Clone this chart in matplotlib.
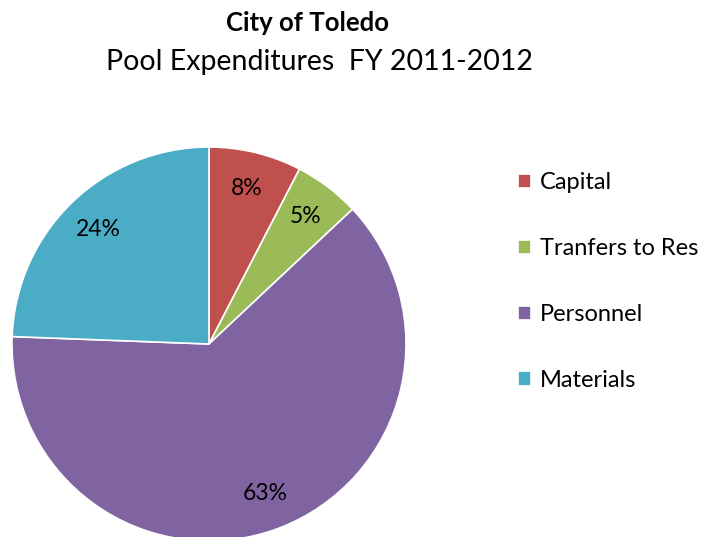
import matplotlib.pyplot as plt

# data
categories = ['Capital', 'Tranfers to Res', 'Personnel', 'Materials']
shares = [7.6, 5.4, 62.6, 24.4]
colors = ['#C0504D', '#9BBB59', '#8064A2', '#4BACC6']

plt.rcParams['font.family'] = ['Lato', 'DejaVu Sans']

W, H = 703, 537
fig = plt.figure(figsize=(W / 100, H / 100), dpi=100)

# pie axes: centre (209, 344) px, radius 197 px
cx, cy, r = 209, 344, 197
ax = fig.add_axes([(cx - r) / W, (H - cy - r) / H, 2 * r / W, 2 * r / H])
wedges, texts, autotexts = ax.pie(shares, colors=colors, startangle=90, counterclock=False,
                                  autopct='%1.0f%%', pctdistance=0.81,
                                  wedgeprops=dict(edgecolor='white', linewidth=1.2),
                                  textprops=dict(fontsize=16.5, color='black'))
ax.set_xlim(-1, 1)
ax.set_ylim(-1, 1)
ax.set_aspect('equal')
ax.axis('off')

fig.text(308 / W, 1 - 23 / H, 'City of Toledo', ha='center', va='center',
         fontsize=18.5, fontweight='bold')
fig.text(320 / W, 1 - 62 / H, 'Pool Expenditures  FY 2011-2012', ha='center', va='center',
         fontsize=20.5)

leg = fig.legend(wedges, categories, loc='upper left', bbox_to_anchor=(497 / W, 1 - 151 / H),
                 frameon=False, fontsize=17, labelspacing=1.9, handlelength=0.55,
                 handleheight=0.55, handletextpad=0.35)

plt.savefig('out.png', dpi=100)
